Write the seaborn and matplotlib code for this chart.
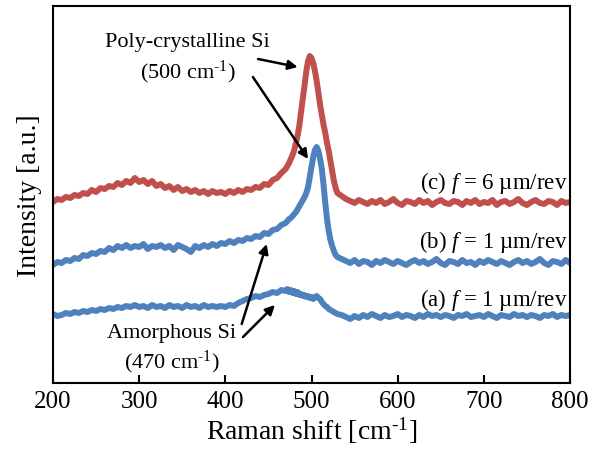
import numpy as np
import pandas as pd
import matplotlib
matplotlib.use("Agg")
import matplotlib.pyplot as plt
import seaborn as sns

# Raman shift sampling grid [cm-1]
x_left = list(range(200, 470, 5))
x_peak = list(range(470, 532, 2))
x_right = list(range(535, 805, 5))
raman_shift = x_left + x_peak + x_right

# (c) f = 6 um/rev (red), arbitrary intensity units
int_c = [181,184,183,186,185,188,187,190,189,193, 191,195,194,197,196,200,198,202,200,205,
         201,203,199,202,197,199,195,197,193,196, 192,194,191,193,190,192,189,192,190,191,
         189,192,190,193,191,194,193,196,195,199, 198,203,205,210] + \
        [214,217,220,224,228,233,240,248,258,272,285,298,312,322,327,325,320,312,302,290,
         278,268,258,250,240,232,222,212,202,195,190] + \
        [187,184,182,180,183,181,179,182,180,183,179,181,184,180,178,182,181,179,183,180,
         182,178,181,183,180,179,182,181,178,182,180,183,179,181,180,183,178,181,182,179,
         181,184,180,178,181,183,180,179,182,181,178,182,180,181]

# (b) f = 1 um/rev (blue, middle)
int_b = [118,121,120,123,122,125,124,128,127,130, 129,132,131,135,133,137,135,138,135,137,
         136,139,134,137,136,138,135,137,133,138, 136,134,131,137,135,138,136,139,137,140,
         139,142,140,143,142,145,144,147,146,150, 149,153,154,158] + \
        [160,162,164,165,167,169,171,174,177,180,183,186,190,196,206,216,226,233,236,232,
         224,214,198,180,164,152,143,137,132,128,126] + \
        [124,122,120,123,119,122,121,118,122,120,123,121,119,122,120,118,121,123,120,122,
         119,121,124,120,118,122,121,119,123,120,121,118,122,120,123,121,119,122,120,118,
         121,123,120,122,119,121,124,120,118,122,121,119,123,120]

# (a) f = 1 um/rev (blue, bottom)
int_a = [69,67,68,70,69,71,70,72,71,73, 72,74,73,75,74,76,75,77,76,78,
         76,77,75,78,76,77,75,78,76,77, 75,78,76,77,75,78,76,77,76,77,
         76,78,77,80,82,84,85,87,86,88, 89,91,90,93] + \
        [92,94,91,93,90,92,89,91,88,89,87,88,86,87,85,86,84,86,87,85,
         84,81,79,77,76,74,73,72,71,70,69] + \
        [68,66,64,67,65,68,66,69,67,65,68,66,67,69,66,68,67,65,68,66,
         69,67,68,66,68,67,65,68,67,69,66,67,68,66,69,67,65,68,67,66,
         69,67,68,66,68,67,65,68,67,69,66,68,67,68]

series_labels = ["(c) $f$ = 6 µm/rev", "(b) $f$ = 1 µm/rev", "(a) $f$ = 1 µm/rev"]
label_y = [201, 142, 84]
red = "#C0504D"
blue = "#4F81BD"

sns.set_style("white")
plt.rcParams["font.family"] = ["Liberation Serif", "DejaVu Serif"]
plt.rcParams["mathtext.fontset"] = "custom"
plt.rcParams["mathtext.rm"] = "Liberation Serif"
plt.rcParams["mathtext.it"] = "Liberation Serif:italic"
plt.rcParams["text.color"] = "black"
plt.rcParams["axes.labelcolor"] = "black"
plt.rcParams["xtick.color"] = "black"
plt.rcParams["ytick.color"] = "black"

fig = plt.figure(figsize=(5.98, 4.56), dpi=100)
ax = fig.add_axes([53/598, 1-384/456, (570-53)/598, (384-7)/456])

for ys, col in [(int_a, blue), (int_b, blue), (int_c, red)]:
    df = pd.DataFrame({"x": raman_shift, "y": ys})
    sns.lineplot(data=df, x="x", y="y", color=col, lw=4.3, ax=ax, estimator=None, sort=False)

ax.set_xlim(200, 800)
ax.set_ylim(0, 377)
ax.set_xticks([200, 300, 400, 500, 600, 700, 800])
ax.set_yticks([])
ax.tick_params(axis="x", direction="in", length=6, width=1.5, labelsize=18, pad=5, bottom=True,
               colors="black")
for s in ax.spines.values():
    s.set_color("black")
    s.set_linewidth(1.5)
sup = "$^{\\text{-1}}$"
ax.set_xlabel("Raman shift [cm" + sup + "]", fontsize=20, labelpad=2, color="black")
ax.set_ylabel("Intensity [a.u.]", fontsize=20, labelpad=8, color="black")

for lab, yy in zip(series_labels, label_y):
    ax.text(797, yy, lab, ha="right", va="center", fontsize=16.5, color="black")

ax.text(356, 341, "Poly-crystalline Si", ha="center", va="center", fontsize=16, color="black")
ax.text(356, 312, "(500 cm" + sup + ")", ha="center", va="center", fontsize=16, color="black")
ax.text(338, 50, "Amorphous Si", ha="center", va="center", fontsize=16, color="black")
ax.text(338, 22, "(470 cm" + sup + ")", ha="center", va="center", fontsize=16, color="black")

ap = dict(arrowstyle="-|>", lw=1.8, color="black", mutation_scale=14, shrinkA=0, shrinkB=0)
for tail, head in [((438, 324), (484, 316)), ((432, 306), (496, 224)),
                   ((419, 59), (448, 139)), ((420.5, 46), (457.6, 78))]:
    ax.annotate("", xy=head, xytext=tail, arrowprops=ap)

fig.savefig("out.png", dpi=100)
